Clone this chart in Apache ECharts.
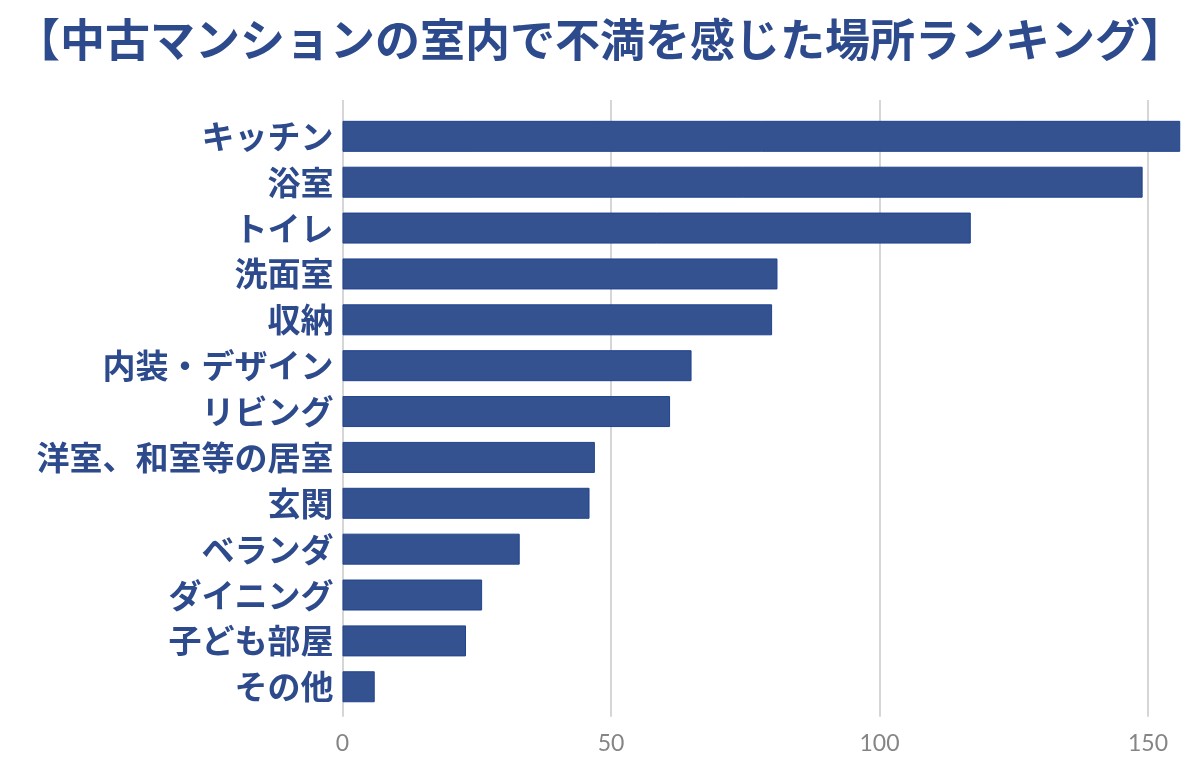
<!DOCTYPE html>
<html>
<head>
<meta charset="utf-8">
<script src="https://cdn.jsdelivr.net/npm/echarts@6/dist/echarts.min.js"></script>
<style>
html,body{margin:0;padding:0;background:#fff;}
#c{width:1200px;height:776px;}
</style>
</head>
<body>
<div id="c"></div>
<script>
const titleText = '【中古マンションの室内で不満を感じた場所ランキング】';
const categories = ['キッチン','浴室','トイレ','洗面室','収納','内装・デザイン','リビング','洋室、和室等の居室','玄関','ベランダ','ダイニング','子ども部屋','その他'];
const values = [156, 149, 117, 81, 80, 65, 61, 47, 46, 33, 26, 23, 6];
const xTicks = [0, 50, 100, 150];

const chart = echarts.init(document.getElementById('c'), null, {renderer: 'canvas'});
const axisMin = 0, axisMax = 157, step = 50;
const pxPerUnit = 5.37;
const gridLeft = 342.5, gridWidth = axisMax * pxPerUnit;
const gridColor = '#d6d6d6';
chart.setOption({
  animation: false,
  backgroundColor: '#ffffff',
  title: {
    text: titleText,
    left: 'center',
    top: 12,
    textStyle: {
      fontFamily: '"Noto Sans CJK JP", sans-serif',
      fontSize: 45,
      fontWeight: 'bold',
      color: '#2c4a8c'
    }
  },
  grid: [
    {left: gridLeft, width: gridWidth, top: 113.4, height: 596.3},
    {left: gridLeft, width: gridWidth, top: 100, height: 616.7}
  ],
  xAxis: [
    {
      gridIndex: 0, type: 'value', min: axisMin, max: axisMax, interval: step,
      axisLine: {show: false}, axisTick: {show: false}, axisLabel: {show: false},
      splitLine: {show: false}
    },
    {
      gridIndex: 1, type: 'value', min: axisMin, max: axisMax, interval: step,
      axisLine: {show: false}, axisTick: {show: false},
      splitLine: {show: true, lineStyle: {
        color: xTicks.map(() => gridColor).concat(['rgba(0,0,0,0)']), width: 2}},
      axisLabel: {
        show: true, margin: 15, showMaxLabel: false,
        color: '#858585', fontSize: 23, fontFamily: 'Lato, "Open Sans", sans-serif',
        formatter: v => (xTicks.indexOf(v) >= 0 ? String(v) : '')
      }
    }
  ],
  yAxis: [
    {
      gridIndex: 0, type: 'category', data: categories, inverse: true,
      axisLine: {show: false}, axisTick: {show: false}, splitLine: {show: false},
      axisLabel: {
        margin: 9, color: '#2d4a8c', fontSize: 33, fontWeight: 'bold',
        fontFamily: '"Noto Sans CJK JP", sans-serif'
      }
    },
    {
      gridIndex: 1, type: 'value', show: false
    }
  ],
  series: [{
    type: 'bar',
    xAxisIndex: 0, yAxisIndex: 0,
    data: values,
    barWidth: 31,
    itemStyle: {color: '#34528f', borderColor: '#21438f', borderWidth: 1},
    z: 3
  }]
});
</script>
</body>
</html>
